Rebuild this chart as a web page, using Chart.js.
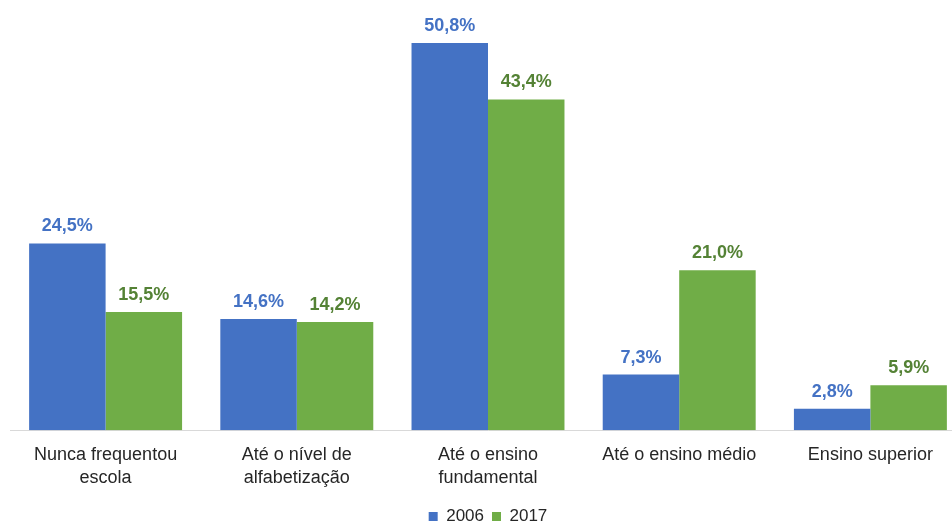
<!DOCTYPE html>
<html>
<head>
<meta charset="utf-8">
<script src="https://cdn.jsdelivr.net/npm/chart.js@4/dist/chart.umd.min.js"></script>
<style>
  html, body { margin: 0; padding: 0; background: #fff; overflow: hidden; }
  #wrap { width: 952px; height: 521px; overflow: hidden; position: relative; }
  canvas { position: absolute; left: 0; top: 0; }
</style>
</head>
<body>
<div id="wrap"><canvas id="escolaridade" width="976" height="535"></canvas></div>
<script>
const categorias = [
  ['Nunca frequentou', 'escola'],
  ['Até o nível de', 'alfabetização'],
  ['Até o ensino', 'fundamental'],
  'Até o ensino médio',
  'Ensino superior'
];
const anos = ['2006', '2017'];
const valores2006 = [24.5, 14.6, 50.8, 7.3, 2.8];
const valores2017 = [15.5, 14.2, 43.4, 21.0, 5.9];

const corBarras = ['#4472C4', '#70AD47'];
const corRotulos = ['#4472C4', '#548235'];

// writes the value above each bar, e.g. "24,5%"
const rotulosBarras = {
  id: 'rotulosBarras',
  afterDatasetsDraw(chart) {
    const ctx = chart.ctx;
    ctx.save();
    ctx.font = 'bold 18px "Liberation Sans", Arial, sans-serif';
    ctx.textAlign = 'center';
    ctx.textBaseline = 'alphabetic';
    chart.data.datasets.forEach((ds, i) => {
      ctx.fillStyle = corRotulos[i];
      chart.getDatasetMeta(i).data.forEach((bar, j) => {
        const txt = ds.data[j].toFixed(1).replace('.', ',') + '%';
        ctx.fillText(txt, bar.x, bar.y - 12);
      });
    });
    ctx.restore();
  }
};

const ctx = document.getElementById('escolaridade').getContext('2d');
new Chart(ctx, {
  type: 'bar',
  data: {
    labels: categorias,
    datasets: [
      { label: anos[0], data: valores2006, backgroundColor: corBarras[0] },
      { label: anos[1], data: valores2017, backgroundColor: corBarras[1] }
    ]
  },
  options: {
    responsive: false,
    animation: false,
    layout: { padding: { left: 10, right: 10, top: 11, bottom: 0 } },
    datasets: { bar: { categoryPercentage: 0.8, barPercentage: 1.0 } },
    plugins: {
      legend: {
        position: 'bottom',
        labels: {
          boxWidth: 9,
          boxHeight: 9,
          padding: 8,
          color: '#262626',
          font: { family: '"Liberation Sans", Arial, sans-serif', size: 17 }
        }
      },
      tooltip: { enabled: false }
    },
    scales: {
      y: { display: false, min: 0, max: 55 },
      x: {
        grid: { display: false },
        border: { display: true, color: '#d9d9d9', width: 1 },
        // a little extra room under the wrapped category names
        afterFit(scale) { scale.height += 5; },
        ticks: {
          color: '#262626',
          padding: 5,
          maxRotation: 0,
          font: { family: '"Liberation Sans", Arial, sans-serif', size: 18, lineHeight: 1.3 }
        }
      }
    }
  },
  plugins: [rotulosBarras]
});
</script>
</body>
</html>
